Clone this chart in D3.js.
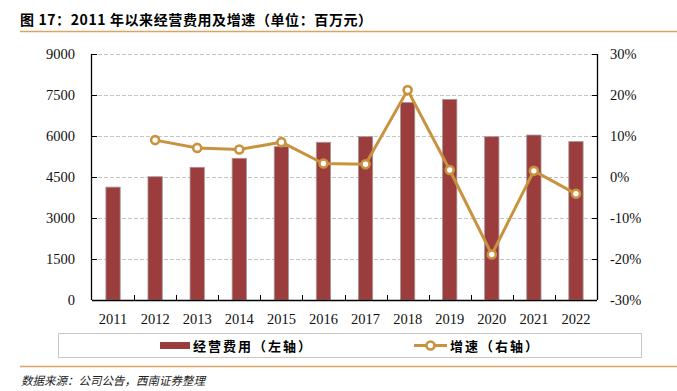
<!DOCTYPE html>
<html>
<head>
<meta charset="utf-8">
<script src="https://cdn.jsdelivr.net/npm/d3@7"></script>
<style>
  body { margin: 0; background: #fff; }
  svg { display: block; }
</style>
</head>
<body>
<svg id="chart" width="677" height="391"></svg>
<script>
const years = ["2011", "2012", "2013", "2014", "2015", "2016", "2017", "2018", "2019", "2020", "2021", "2022"];
const expense = [4130, 4510, 4855, 5185, 5610, 5770, 5975, 7230, 7340, 5975, 6035, 5795];
const growth = [null, 9.0, 7.1, 6.7, 8.5, 3.3, 3.1, 21.2, 1.7, -18.9, 1.5, -4.1];
const leftTicks = [0, 1500, 3000, 4500, 6000, 7500, 9000];
const rightTicks = [-30, -20, -10, 0, 10, 20, 30];

const barColor = "#9c3d3d";
const lineColor = "#c9923e";
const svg = d3.select("#chart");

const margin = { left: 92, right: 80, top: 54, bottom: 91 };
const width = 677 - margin.left - margin.right;
const height = 391 - margin.top - margin.bottom;

// title and rules
svg.append("text")
    .attr("x", 20).attr("y", 25)
    .style("font-family", "'Noto Sans CJK SC', sans-serif")
    .style("font-weight", "bold")
    .style("font-size", "14px")
    .style("letter-spacing", "0.6px")
    .text("图 17：2011 年以来经营费用及增速（单位：百万元）");
svg.append("line").attr("x1", 20).attr("x2", 677).attr("y1", 31.5).attr("y2", 31.5)
    .style("stroke", "#d9a566").style("stroke-width", 1.5);
svg.append("line").attr("x1", 20).attr("x2", 677).attr("y1", 366.5).attr("y2", 366.5)
    .style("stroke", "#d9a566").style("stroke-width", 1.5);
svg.append("text")
    .attr("x", 21).attr("y", 385)
    .style("font-family", "'Noto Sans CJK SC', sans-serif")
    .style("font-style", "italic")
    .style("font-size", "11.5px")
    .style("fill", "#222")
    .text("数据来源：公司公告，西南证券整理");

const g = svg.append("g").attr("transform", `translate(${margin.left},${margin.top})`);

const x = d3.scaleBand().domain(years).range([0, width]).paddingInner(0.66).paddingOuter(0.33);
const yL = d3.scaleLinear().domain([0, 9000]).range([height, 0]);
const yR = d3.scaleLinear().domain([-30, 30]).range([height, 0]);

// grid
g.selectAll("line.grid")
    .data(leftTicks.filter(d => d > 0))
    .enter().append("line")
    .attr("class", "grid")
    .attr("x1", 0).attr("x2", width)
    .attr("y1", d => Math.round(yL(d)) + 0.5)
    .attr("y2", d => Math.round(yL(d)) + 0.5)
    .style("stroke", "#c4c4c4")
    .style("stroke-dasharray", "4,2")
    .style("stroke-width", 1);

// bars
g.selectAll("rect.bar")
    .data(expense)
    .enter().append("rect")
    .attr("class", "bar")
    .attr("x", (d, i) => x(years[i]))
    .attr("y", d => yL(d))
    .attr("width", x.bandwidth())
    .attr("height", d => height - yL(d))
    .style("fill", barColor)
    .style("stroke", "#a59999")
    .style("stroke-width", 0.8);

// axes
const axisFont = "'Liberation Serif', 'Times New Roman', serif";
const leftAxis = g.append("g")
    .call(d3.axisLeft(yL).tickValues(leftTicks).tickSize(-5).tickPadding(17).tickFormat(d3.format("d")));
const rightAxis = g.append("g").attr("transform", `translate(${width},0)`)
    .call(d3.axisRight(yR).tickValues(rightTicks).tickSize(-5).tickPadding(13).tickFormat(d => d + "%"));
const bottomAxis = g.append("g").attr("transform", `translate(0,${height})`)
    .call(d3.axisBottom(x).tickSize(0).tickPadding(14));

// category separator ticks on x axis
g.selectAll("line.xtick")
    .data(years.slice(1))
    .enter().append("line")
    .attr("class", "xtick")
    .attr("x1", d => Math.round(x(d) - x.step() * x.paddingInner() / 2) + 0.5)
    .attr("x2", d => Math.round(x(d) - x.step() * x.paddingInner() / 2) + 0.5)
    .attr("y1", height).attr("y2", height - 5)
    .style("stroke", "#000");

[leftAxis, rightAxis, bottomAxis].forEach(a => {
    a.select(".domain").style("stroke", "#000").style("stroke-width", 1.3);
    a.selectAll(".tick line").style("stroke", "#000");
    a.selectAll("text")
        .style("font-family", axisFont)
        .style("font-size", "14.5px")
        .style("fill", "#111");
});
leftAxis.select(".domain").attr("d", `M-0.5,0V${height}`);
rightAxis.select(".domain").attr("d", `M0.5,0V${height}`);
bottomAxis.select(".domain").attr("d", `M0,0.5H${width}`);

// growth line
const pts = growth.map((v, i) => ({ year: years[i], v })).filter(d => d.v !== null);
const line = d3.line()
    .x(d => x(d.year) + x.bandwidth() / 2)
    .y(d => yR(d.v));
g.append("path")
    .datum(pts)
    .attr("d", line)
    .style("fill", "none")
    .style("stroke", lineColor)
    .style("stroke-width", 3);
g.selectAll("circle.pt")
    .data(pts)
    .enter().append("circle")
    .attr("class", "pt")
    .attr("cx", d => x(d.year) + x.bandwidth() / 2)
    .attr("cy", d => yR(d.v))
    .attr("r", 4)
    .style("fill", "#fff")
    .style("stroke", lineColor)
    .style("stroke-width", 2.6);

// legend
const lg = svg.append("g");
lg.append("rect")
    .attr("x", 58.5).attr("y", 333.5).attr("width", 583).attr("height", 24)
    .style("fill", "#fff").style("stroke", "#c8c8c8").style("stroke-width", 1);
lg.append("rect")
    .attr("x", 160).attr("y", 342).attr("width", 30).attr("height", 7)
    .style("fill", barColor);
lg.append("text")
    .attr("x", 193).attr("y", 351)
    .style("font-family", "'Noto Sans CJK SC', sans-serif")
    .style("font-weight", "bold")
    .style("font-size", "13px")
    .style("letter-spacing", "2px")
    .text("经营费用（左轴）");
lg.append("line")
    .attr("x1", 414).attr("x2", 447).attr("y1", 345.5).attr("y2", 345.5)
    .style("stroke", lineColor).style("stroke-width", 3);
lg.append("circle")
    .attr("cx", 430.5).attr("cy", 345.5).attr("r", 4)
    .style("fill", "#fff").style("stroke", lineColor).style("stroke-width", 2.6);
lg.append("text")
    .attr("x", 450).attr("y", 351)
    .style("font-family", "'Noto Sans CJK SC', sans-serif")
    .style("font-weight", "bold")
    .style("font-size", "13px")
    .style("letter-spacing", "2px")
    .text("增速（右轴）");
</script>
</body>
</html>
